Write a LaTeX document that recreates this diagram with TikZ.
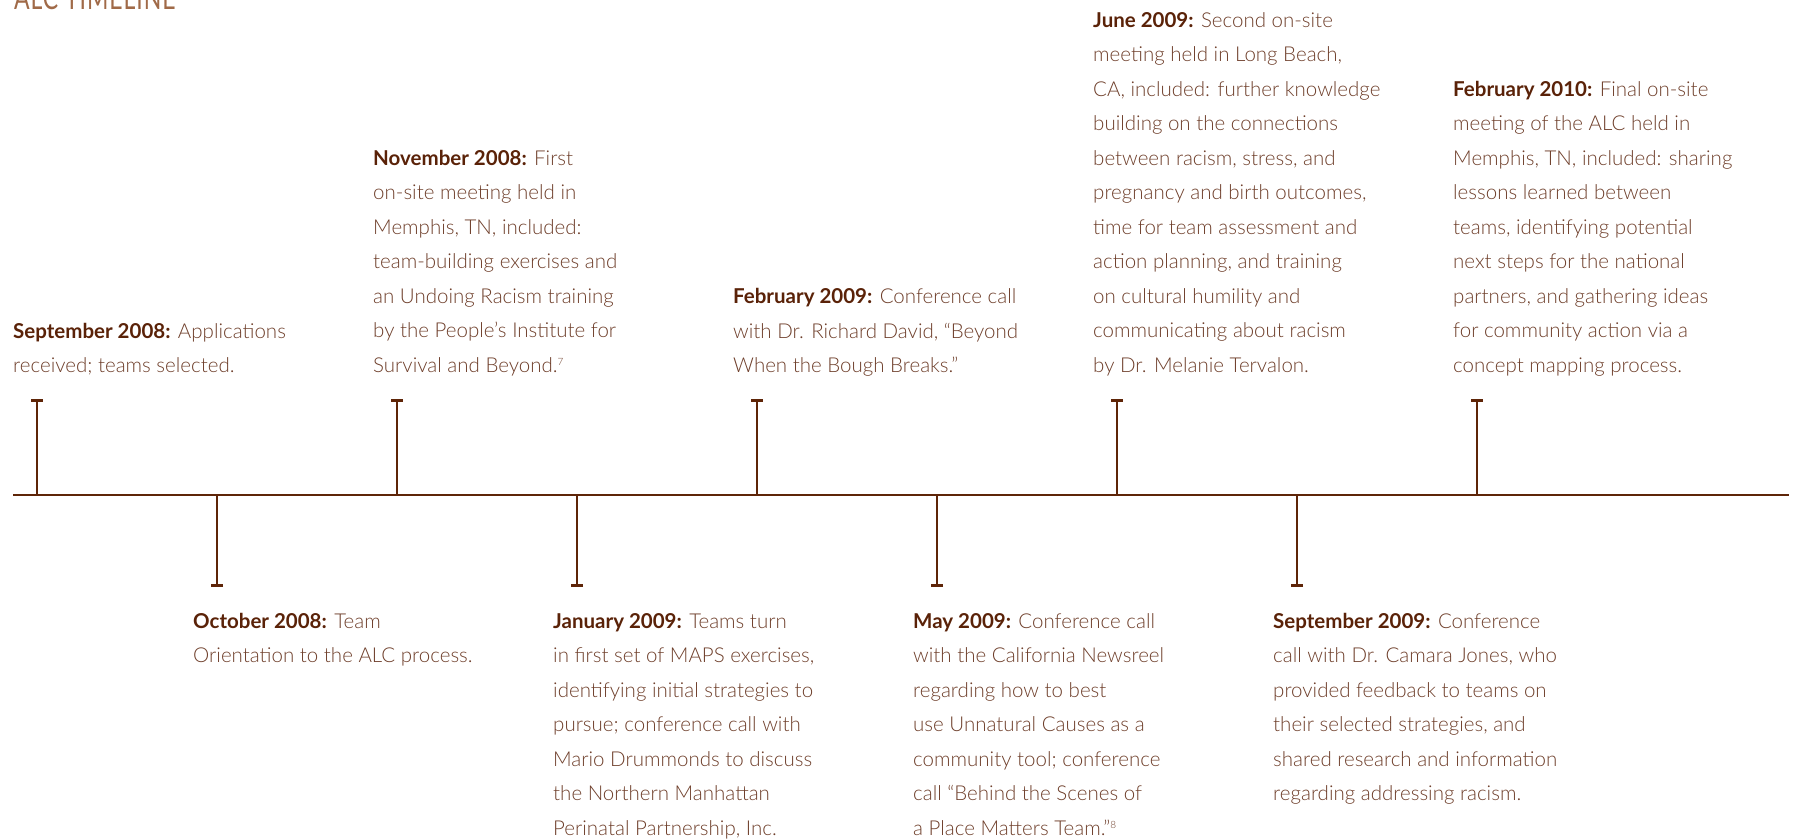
\documentclass[tikz,border=0pt]{standalone}
\usepackage{fontspec}
\setmainfont{Lato Light}[BoldFont=Lato Bold]
\newfontfamily\titlefont{Lato}[FakeStretch=0.72,LetterSpace=3]
\usetikzlibrary{arrows.meta}

\definecolor{linebrown}{HTML}{5E2508}
\definecolor{datebrown}{HTML}{5A2208}
\definecolor{textbrown}{HTML}{6E3E2A}
\definecolor{titletan}{HTML}{A06A48}

\newcommand{\when}[1]{{\bfseries\color{datebrown}#1}}
\newcommand{\fnote}[1]{\raisebox{7pt}{\fontsize{10}{10}\selectfont #1}}
% lines of one event, baseline on the first line
\newcommand{\evlines}[1]{\begin{tabular}[t]{@{}l@{}}#1\end{tabular}}

\begin{document}
\begin{tikzpicture}[x=1pt, y=-1pt,
    event/.style={anchor=base west, inner sep=0pt, text=textbrown,
      font=\fontsize{20.5}{34.5}\selectfont},
    tickline/.style={draw=linebrown, line width=2.6pt, -{Bar[width=12pt]}}]
    \useasboundingbox (0,0) rectangle (1800,840);

    % Title, cut by the page edge
    \node[anchor=base west, inner sep=0pt, text=titletan, font=\titlefont\fontsize{32}{32}\selectfont]
      (title) at (14,10) {ALC TIMELINE};

    % Axis
    \coordinate (start) at (13,495);
    \coordinate (stop) at (1789,495);
    \draw[linebrown, line width=2.6pt] (start) -- (stop);

    % Ticks, up and down in turn
    \foreach \i in {0,...,8} {
      \coordinate (a\i) at ({37+180*\i},495);
      \ifodd\i
        \coordinate (e\i) at ({37+180*\i},587);
      \else
        \coordinate (e\i) at ({37+180*\i},399);
      \fi
      \draw[tickline] (a\i) -- (e\i);
    }

    % Events above the axis
    \node[event] (sep08) at (13,338) {\evlines{\when{September 2008:} Applications\\
      received; teams selected.}};
    \node[event] (nov08) at (373,165.5) {\evlines{\when{November 2008:} First\\
      on-site meeting held in\\
      Memphis, TN, included:\\
      team-building exercises and\\
      an Undoing Racism training\\
      by the People’s Institute for\\
      Survival and Beyond.\fnote{7}}};
    \node[event] (feb09) at (733,303.5) {\evlines{\when{February 2009:} Conference call\\
      with Dr. Richard David, “Beyond\\
      When the Bough Breaks.”}};
    \node[event] (jun09) at (1093,27.5) {\evlines{\when{June 2009:} Second on-site\\
      meeting held in Long Beach,\\
      CA, included: further knowledge\\
      building on the connections\\
      between racism, stress, and\\
      pregnancy and birth outcomes,\\
      time for team assessment and\\
      action planning, and training\\
      on cultural humility and\\
      communicating about racism\\
      by Dr. Melanie Tervalon.}};
    \node[event] (feb10) at (1453,96.5) {\evlines{\when{February 2010:} Final on-site\\
      meeting of the ALC held in\\
      Memphis, TN, included: sharing\\
      lessons learned between\\
      teams, identifying potential\\
      next steps for the national\\
      partners, and gathering ideas\\
      for community action via a\\
      concept mapping process.}};

    % Events below the axis
    \node[event] (oct08) at (193,628) {\evlines{\when{October 2008:} Team\\
      Orientation to the ALC process.}};
    \node[event] (jan09) at (553,628) {\evlines{\when{January 2009:} Teams turn\\
      in first set of MAPS exercises,\\
      identifying initial strategies to\\
      pursue; conference call with\\
      Mario Drummonds to discuss\\
      the Northern Manhattan\\
      Perinatal Partnership, Inc.}};
    \node[event] (may09) at (913,628) {\evlines{\when{May 2009:} Conference call\\
      with the California Newsreel\\
      regarding how to best\\
      use Unnatural Causes as a\\
      community tool; conference\\
      call “Behind the Scenes of\\
      a Place Matters Team.”\fnote{8}}};
    \node[event] (sep09) at (1273,628) {\evlines{\when{September 2009:} Conference\\
      call with Dr. Camara Jones, who\\
      provided feedback to teams on\\
      their selected strategies, and\\
      shared research and information\\
      regarding addressing racism.}};
\end{tikzpicture}
\end{document}
